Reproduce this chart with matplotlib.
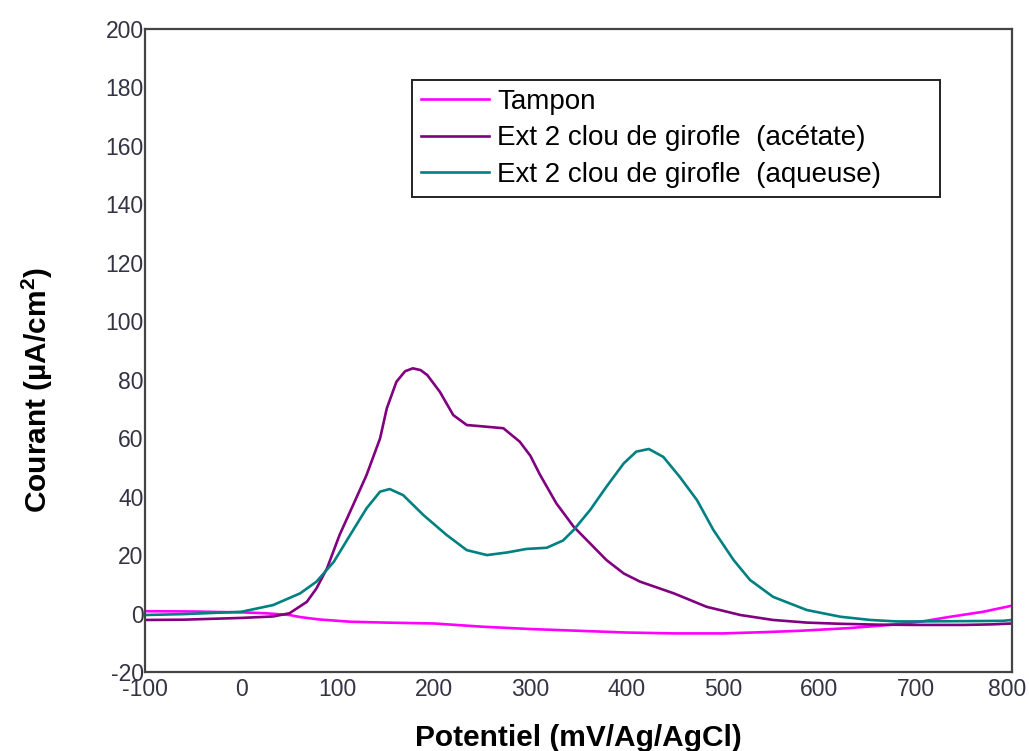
import matplotlib

matplotlib.use("Agg")
import matplotlib.pyplot as plt
import matplotlib.transforms as mtransforms

plt.rcParams["font.family"] = ["Liberation Sans", "DejaVu Sans"]
plt.rcParams["mathtext.fontset"] = "custom"
plt.rcParams["mathtext.rm"] = "Liberation Sans"
plt.rcParams["mathtext.bf"] = "Liberation Sans:bold"
plt.rcParams["axes.unicode_minus"] = False

# Voltammogram data (potential in mV vs Ag/AgCl, current in uA/cm2)
tampon_x = [-100, -50, -20, 0, 25, 50, 61, 80, 113, 150, 200, 250, 300, 350,
            400, 450, 500, 540, 580, 630, 673, 705, 736, 770, 800]
tampon_y = [0.8, 0.7, 0.5, 0.4, 0.1, -0.5, -1.2, -2.0, -2.8, -3.1, -3.4, -4.5,
            -5.3, -5.9, -6.5, -6.8, -6.8, -6.4, -5.9, -5.0, -3.9, -2.8, -1.1,
            0.6, 2.7]

acetate_x = [-100, -60, -30, 0, 33, 50, 68, 78, 89, 102, 116, 130, 144, 151,
             161, 170, 178, 186, 193, 206, 220, 234, 255, 272, 289, 300, 310,
             327, 345, 362, 379, 397, 414, 449, 483, 518, 552, 587, 621, 660,
             700, 750, 780, 800]
acetate_y = [-2.2, -2.1, -1.8, -1.5, -1.0, 0.1, 4.0, 8.6, 15.5, 26.9, 37.1,
             47.4, 59.9, 70.2, 79.3, 82.9, 83.9, 83.3, 81.6, 75.9, 67.9, 64.5,
             63.9, 63.4, 58.8, 54.0, 47.5, 37.7, 29.7, 24.0, 18.3, 13.7, 10.9,
             6.9, 2.3, -0.5, -2.2, -3.1, -3.5, -3.8, -3.9, -3.9, -3.7, -3.4]

aqueuse_x = [-100, -60, -30, 0, 33, 61, 78, 96, 113, 130, 144, 154, 168, 189,
             213, 234, 255, 276, 296, 317, 334, 345, 362, 379, 397, 410, 423,
             438, 455, 473, 490, 511, 528, 552, 587, 622, 653, 680, 700, 750,
             790, 800]
aqueuse_y = [-0.5, -0.2, 0.2, 0.6, 2.9, 6.9, 10.9, 17.7, 26.9, 36.0, 41.7,
             42.6, 40.5, 33.7, 26.9, 21.7, 20.0, 20.9, 22.1, 22.5, 25.0, 28.6,
             35.4, 43.4, 51.4, 55.4, 56.3, 53.6, 46.8, 38.8, 28.6, 18.3, 11.5,
             5.7, 1.2, -1.1, -2.2, -2.7, -2.7, -2.6, -2.5, -2.2]

x_ticks = [-100, 0, 100, 200, 300, 400, 500, 600, 700, 800]
y_ticks = [-20, 0, 20, 40, 60, 80, 100, 120, 140, 160, 180, 200]

fig = plt.figure(figsize=(10.29, 7.51), dpi=100)
ax = fig.add_axes([0.1409, 0.1052, 0.8426, 0.8562])

ax.plot(tampon_x, tampon_y, color="#ff00ff", lw=1.9, label="Tampon")
ax.plot(acetate_x, acetate_y, color="#800080", lw=1.9,
        label="Ext 2 clou de girofle  (acétate)")
ax.plot(aqueuse_x, aqueuse_y, color="#008080", lw=1.9,
        label="Ext 2 clou de girofle  (aqueuse)")

ax.set_xlim(-100, 800)
ax.set_ylim(-20, 200)
ax.set_xticks(x_ticks)
ax.set_yticks(y_ticks)
ax.tick_params(length=0, labelsize=16.5, labelcolor="#333344", pad=4)
ax.tick_params(axis="y", pad=1)
for s in ax.spines.values():
    s.set_color("#444444")
    s.set_linewidth(1.6)

# pull the last x label in a little so it stays inside the figure
last = ax.get_xticklabels()[-1]
last.set_transform(last.get_transform() + mtransforms.ScaledTranslation(-5 / 100, 0, fig.dpi_scale_trans))

ax.set_xlabel("Potentiel (mV/Ag/AgCl)", fontsize=21.5, fontweight="bold", labelpad=17)
ax.set_ylabel(r"Courant (µA/cm$\mathbf{^2}$)", fontsize=21.5, fontweight="bold")
ax.yaxis.set_label_coords(-0.104, 0.439)

# legend box stretched to a fixed width
leg = ax.legend(loc="upper left", bbox_to_anchor=(0.308, 0.5, 0.609, 0.421),
                mode="expand", fontsize=20, frameon=True, fancybox=False,
                framealpha=1, edgecolor="#222222", handlelength=2.45,
                handletextpad=0.3, labelspacing=0.38, borderpad=0.32,
                borderaxespad=0)
leg.get_frame().set_linewidth(1.4)

fig.savefig("out.png", dpi=100)
